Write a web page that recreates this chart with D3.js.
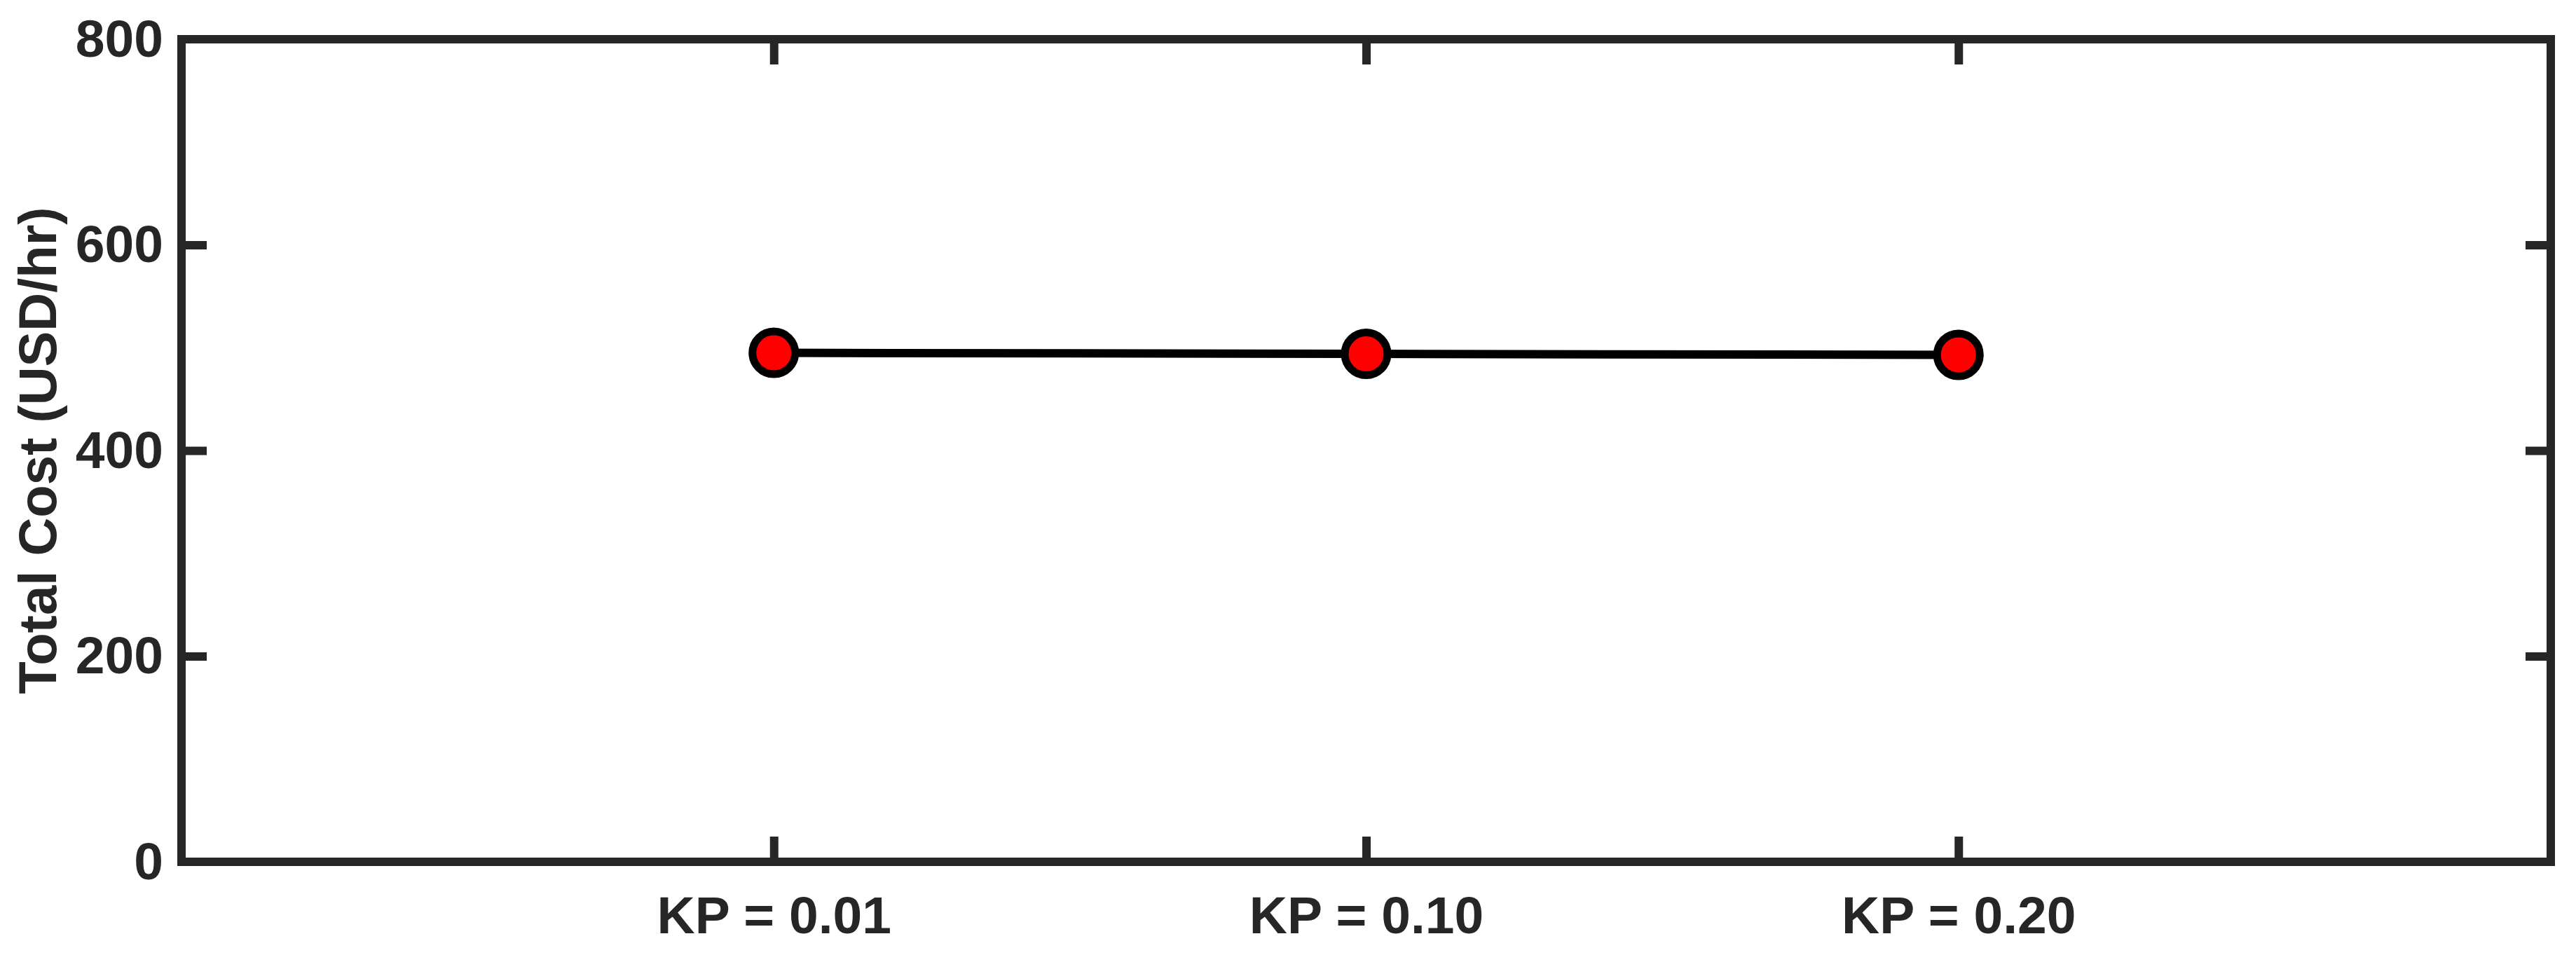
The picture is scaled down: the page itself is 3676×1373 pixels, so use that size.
<!DOCTYPE html>
<html>
<head>
<meta charset="utf-8">
<script src="https://cdn.jsdelivr.net/npm/d3@7"></script>
<style>
  html, body { margin: 0; padding: 0; background: #ffffff; }
  svg { display: block; }
</style>
</head>
<body>
<svg id="chart" width="3676" height="1373"></svg>
<script>
// ---- Data ----
const categories = ["KP = 0.01", "KP = 0.10", "KP = 0.20"];
const xPositions = [1, 2, 3];
const totalCost = [495, 494, 493];
const yTicks = [0, 200, 400, 600, 800];
const yLabel = "Total Cost (USD/hr)";

// ---- Layout ----
const W = 3676, H = 1373;
const plot = { left: 259, right: 3640, top: 56, bottom: 1230 };
const axisColor = "#262626";
const axisWidth = 12;
const tickLen = 36;
const fontFamily = "'Liberation Sans', Arial, Helvetica, sans-serif";
const fontSize = 75;

const svg = d3.select("#chart");

const x = d3.scaleLinear().domain([0, 4]).range([plot.left, plot.right]);
const y = d3.scaleLinear().domain([0, 800]).range([plot.bottom, plot.top]);

const data = xPositions.map((p, i) => ({ p, v: totalCost[i], label: categories[i] }));

// Axes (bottom with labels, top/right mirror ticks)
const bottomAxis = d3.axisBottom(x).tickValues(xPositions)
  .tickFormat((d, i) => categories[i]).tickSize(-tickLen).tickPadding(49);
const leftAxis = d3.axisLeft(y).tickValues(yTicks)
  .tickFormat(d3.format("d")).tickSize(-tickLen).tickPadding(26);
const topAxis = d3.axisTop(x).tickValues(xPositions).tickFormat("").tickSize(-tickLen);
const rightAxis = d3.axisRight(y).tickValues(yTicks).tickFormat("").tickSize(-tickLen);

function styleAxis(g) {
  g.select(".domain").remove();
  g.selectAll(".tick line").attr("stroke", axisColor).attr("stroke-width", axisWidth);
  g.selectAll(".tick text")
    .attr("fill", axisColor)
    .style("font-family", fontFamily)
    .style("font-weight", "bold")
    .style("font-size", fontSize + "px");
}

svg.append("g").attr("transform", `translate(0,${plot.bottom})`).call(bottomAxis).call(styleAxis);
svg.append("g").attr("transform", `translate(${plot.left},0)`).call(leftAxis).call(styleAxis);
svg.append("g").attr("transform", `translate(0,${plot.top})`).call(topAxis).call(styleAxis);
svg.append("g").attr("transform", `translate(${plot.right},0)`).call(rightAxis).call(styleAxis);

// Remove ticks that coincide with the box edges (0 and 800)
svg.selectAll(".tick").filter(d => d === 0 || d === 800).select("line").remove();

// Box frame
svg.append("rect")
  .attr("x", plot.left).attr("y", plot.top)
  .attr("width", plot.right - plot.left).attr("height", plot.bottom - plot.top)
  .attr("fill", "none").attr("stroke", axisColor).attr("stroke-width", axisWidth);

// Y label
svg.append("text")
  .attr("transform", `translate(80,${(plot.top + plot.bottom) / 2}) rotate(-90)`)
  .attr("text-anchor", "middle")
  .attr("fill", axisColor)
  .style("font-family", fontFamily)
  .style("font-weight", "bold")
  .style("font-size", "76px")
  .text(yLabel);

// Line
const line = d3.line().x(d => x(d.p)).y(d => y(d.v));
svg.append("path")
  .datum(data)
  .attr("d", line)
  .attr("fill", "none")
  .attr("stroke", "#000000")
  .attr("stroke-width", 12);

// Markers
svg.append("g").selectAll("circle")
  .data(data)
  .join("circle")
  .attr("cx", d => x(d.p))
  .attr("cy", d => y(d.v))
  .attr("r", 30.5)
  .attr("fill", "#ff0000")
  .attr("stroke", "#000000")
  .attr("stroke-width", 11);
</script>
</body>
</html>
